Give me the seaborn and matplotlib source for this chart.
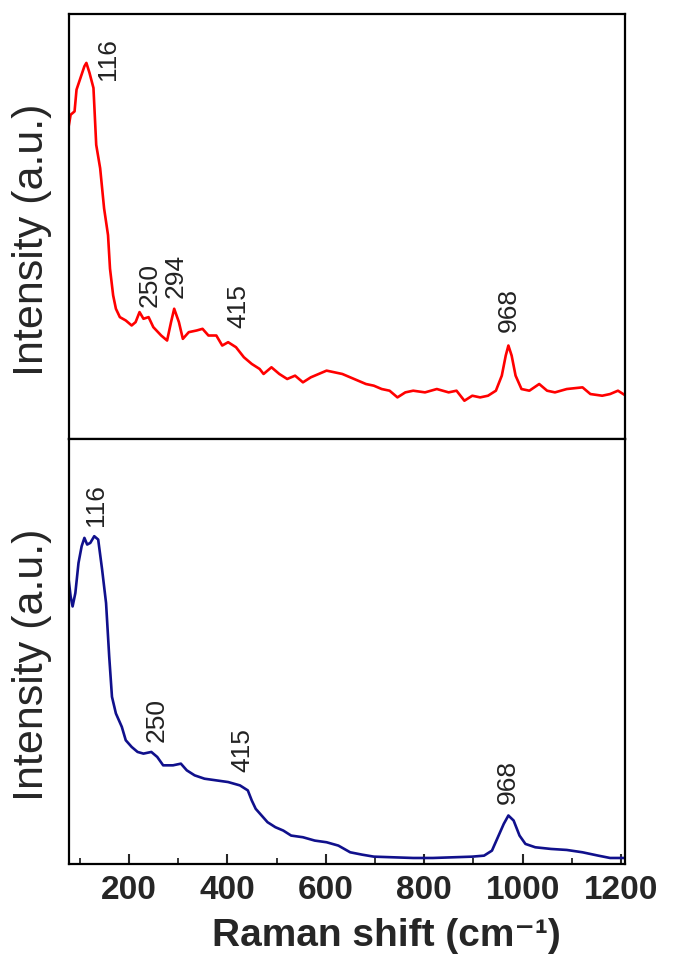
import matplotlib
matplotlib.use("Agg")
import matplotlib.pyplot as plt
import seaborn as sns
import pandas as pd

# ---- data ----
red_x = [77.6, 81.6, 89.6, 93.6, 101.6, 109.6, 113.6, 120.0, 128.0, 133.6, 141.6, 149.6, 157.6,
         161.6, 168.0, 173.6, 181.6, 193.6, 205.6, 213.6, 221.6, 229.6, 240.0, 249.6, 265.6,
         277.6, 285.6, 292.0, 301.6, 309.6, 321.6, 337.6, 349.6, 361.6, 377.6, 389.6, 401.6,
         417.6, 433.6, 449.6, 465.6, 473.6, 489.6, 505.6, 521.6, 537.6, 553.6, 569.6, 585.6,
         601.6, 617.6, 633.6, 649.6, 665.6, 681.6, 697.6, 713.6, 729.6, 745.6, 761.6, 777.6,
         801.6, 825.6, 849.6, 865.6, 881.6, 897.6, 913.6, 929.6, 945.6, 957.6, 965.6, 971.0,
         977.6, 985.6, 997.6, 1013.6, 1033.6, 1049.6, 1065.6, 1089.6, 1121.6, 1137.6, 1161.6,
         1177.6, 1193.6, 1209.6]
red_y = [93.5, 97.0, 98.0, 104.5, 108.0, 111.5, 112.5, 109.5, 105.0, 88.0, 81.0, 69.0, 61.0,
         51.0, 43.0, 39.0, 36.5, 35.5, 34.0, 35.0, 38.0, 36.0, 36.5, 33.5, 31.0,
         29.5, 35.0, 39.0, 35.0, 30.0, 32.0, 32.5, 33.0, 31.0, 31.0, 28.0, 29.0,
         27.5, 24.5, 22.5, 21.0, 19.5, 21.5, 19.5, 18.0, 19.0, 17.0, 18.5, 19.5,
         20.5, 20.0, 19.5, 18.5, 17.5, 16.5, 16.0, 15.0, 14.5, 12.5, 14.0, 14.5,
         14.0, 15.0, 14.0, 14.5, 11.5, 13.0, 12.5, 13.0, 14.5, 19.0, 25.0, 28.0,
         25.0, 19.0, 15.0, 14.5, 16.5, 14.5, 14.0, 15.0, 15.5, 13.5, 13.0,
         13.5, 14.5, 13.0]

blue_x = [77.6, 81.6, 85.6, 91.2, 97.6, 104.0, 109.6, 115.2, 121.6, 129.6, 137.6, 145.6,
          153.6, 160.0, 165.6, 173.6, 185.6, 193.6, 205.6, 217.6, 229.6, 245.6, 257.6, 269.6,
          289.6, 305.6, 317.6, 333.6, 353.6, 377.6, 401.6, 413.6, 425.6, 441.6, 449.6, 457.6,
          469.6, 481.6, 497.6, 513.6, 529.6, 553.6, 577.6, 601.6, 625.6, 649.6, 673.6, 697.6,
          737.6, 777.6, 817.6, 857.6, 897.6, 921.6, 937.6, 949.6, 961.6, 971.0, 981.6, 993.6,
          1005.6, 1025.6, 1057.6, 1089.6, 1121.6, 1153.6, 1177.6, 1209.6]
blue_y = [85.0, 80.0, 77.0, 81.0, 90.0, 95.0, 97.5, 95.5, 96.0, 98.0, 97.0, 88.0,
          78.0, 62.0, 50.0, 45.0, 41.0, 37.0, 35.0, 33.5, 33.0, 33.5, 32.0, 29.5,
          29.5, 30.0, 28.0, 26.5, 25.5, 25.0, 24.5, 24.0, 23.5, 22.0, 19.0, 16.5,
          14.5, 12.5, 11.0, 10.0, 8.5, 8.0, 7.0, 6.5, 5.5, 3.5, 2.8, 2.2,
          2.0, 1.8, 1.8, 2.0, 2.2, 2.5, 4.0, 8.0, 12.0, 14.5, 13.0, 8.5,
          6.0, 5.0, 4.5, 4.2, 3.5, 2.5, 1.8, 1.8]

red_peaks = ["116", "250", "294", "415", "968"]
red_peak_x = [157.6, 243.0, 295.0, 421.6, 972.0]
red_peak_y = [107.5, 39.5, 42.2, 33.2, 32.0]

blue_peaks = ["116", "250", "415", "968"]
blue_peak_x = [133.6, 256.0, 429.6, 969.6]
blue_peak_y = [101.0, 36.5, 27.5, 18.0]

x_ticks = [200, 400, 600, 800, 1000, 1200]
x_minor = [100, 300, 500, 700, 900, 1100]

# ---- plot ----
sns.set_style("white")
plt.rcParams["font.family"] = ["Liberation Sans", "DejaVu Sans"]

fig, (ax1, ax2) = plt.subplots(2, 1, figsize=(6.75, 9.6), dpi=100, sharex=True)
fig.subplots_adjust(left=0.102, right=0.926, top=0.985, bottom=0.10, hspace=0)

df_r = pd.DataFrame({"x": red_x, "y": red_y})
df_b = pd.DataFrame({"x": blue_x, "y": blue_y})
sns.lineplot(data=df_r, x="x", y="y", ax=ax1, color="#ff0000", lw=1.9, sort=False)
sns.lineplot(data=df_b, x="x", y="y", ax=ax2, color="#10108c", lw=1.9, sort=False)

for lab, px, py in zip(red_peaks, red_peak_x, red_peak_y):
    ax1.text(px, py, lab, rotation=90, ha="center", va="bottom", fontsize=19, color="#222222")
for lab, px, py in zip(blue_peaks, blue_peak_x, blue_peak_y):
    ax2.text(px, py, lab, rotation=90, ha="center", va="bottom", fontsize=19, color="#222222")

for ax in (ax1, ax2):
    ax.set_xlim(78, 1208)
    ax.set_ylim(0, 127)
    ax.set_yticks([])
    ax.set_ylabel("Intensity (a.u.)", fontsize=31)
    ax.yaxis.set_label_coords(-0.03, 0.47)
    for s in ax.spines.values():
        s.set_linewidth(1.6)
        s.set_color("black")

ax1.tick_params(axis="x", which="both", bottom=False, labelbottom=False)
ax2.set_xticks(x_ticks)
ax2.set_xticks(x_minor, minor=True)
ax2.tick_params(axis="x", which="major", direction="in", length=7, width=1.5, pad=8,
                labelsize=24, bottom=True)
ax2.tick_params(axis="x", which="minor", direction="in", length=4, width=1.3, bottom=True)
for t in ax2.get_xticklabels():
    t.set_fontweight("bold")
ax2.set_xlabel("Raman shift (cm⁻¹)", fontsize=28, fontweight="bold")
ax2.xaxis.set_label_coords(0.57, -0.128)
ax1.set_xlabel("")

fig.savefig("out.png", dpi=100)
